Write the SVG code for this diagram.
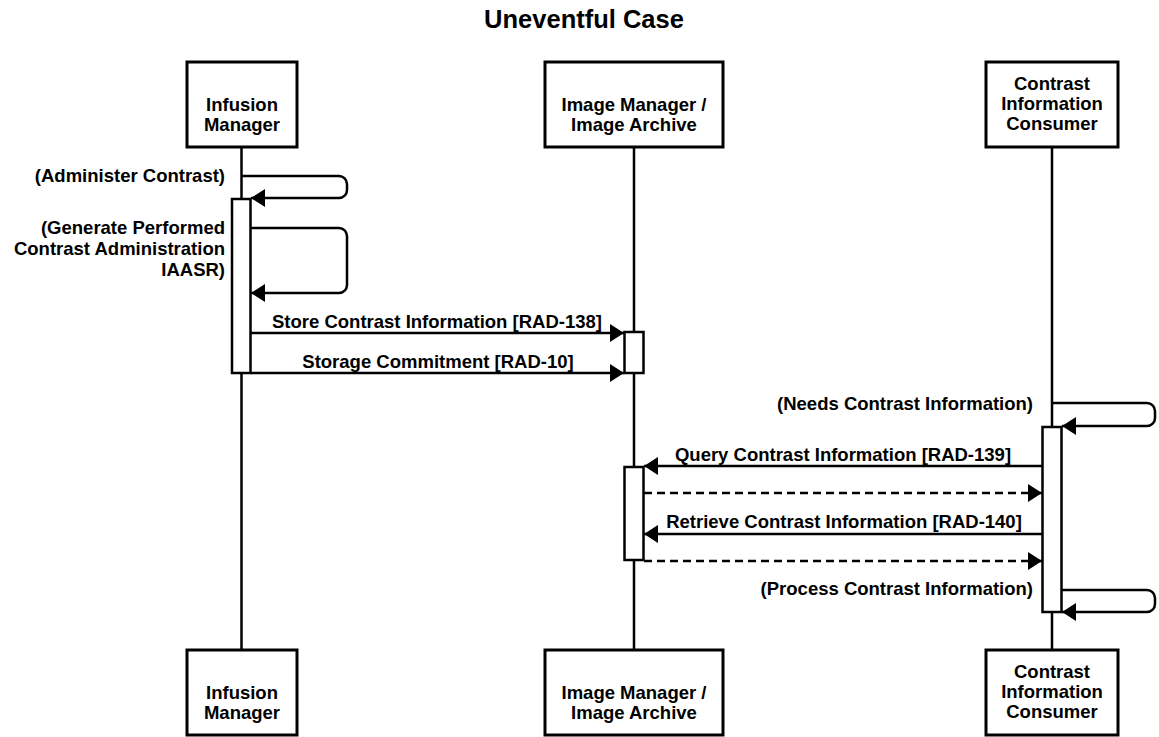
<svg xmlns="http://www.w3.org/2000/svg" width="1159" height="737" viewBox="0 0 1159 737">
  <defs>
    <marker id="arrow" viewBox="0 0 14 18" refX="14" refY="9" markerWidth="14" markerHeight="18" markerUnits="userSpaceOnUse" orient="auto">
      <path d="M0,0 L14,9 L0,18 Z" fill="#000"/>
    </marker>
  </defs>
  <style>
    text { font-family: "Liberation Sans", Arial, Helvetica, sans-serif; font-weight: bold; fill: #000; }
    .title { font-size: 25.5px; text-anchor: middle; }
    .lbl { font-size: 18.5px; }
    .mid { text-anchor: middle; }
    .end { text-anchor: end; }
    .box { fill: #fff; stroke: #000; stroke-width: 3; }
    .life { stroke: #000; stroke-width: 2.5; fill: none; }
    .act { fill: #fff; stroke: #000; stroke-width: 2.5; }
    .msg { stroke: #000; stroke-width: 2.5; fill: none; marker-end: url(#arrow); }
    .ret { stroke-dasharray: 8 5; }
  </style>
  <rect width="1159" height="737" fill="#fff"/>

  <text class="title" x="584" y="28">Uneventful Case</text>

  <!-- lifelines -->
  <g id="lifelines">
    <line class="life" x1="241.5" y1="148" x2="241.5" y2="649"/>
    <line class="life" x1="634" y1="148" x2="634" y2="649"/>
    <line class="life" x1="1052" y1="148" x2="1052" y2="649"/>
  </g>

  <!-- participants -->
  <g id="infusion-manager">
    <rect class="box" x="187" y="62" width="110" height="85"/>
    <text class="lbl mid" x="242" y="111">Infusion</text>
    <text class="lbl mid" x="242" y="131">Manager</text>
    <rect class="box" x="187" y="650" width="110" height="85"/>
    <text class="lbl mid" x="242" y="699">Infusion</text>
    <text class="lbl mid" x="242" y="719">Manager</text>
  </g>
  <g id="image-manager">
    <rect class="box" x="545" y="62" width="178" height="85"/>
    <text class="lbl mid" x="634" y="111">Image Manager /</text>
    <text class="lbl mid" x="634" y="131">Image Archive</text>
    <rect class="box" x="545" y="650" width="178" height="85"/>
    <text class="lbl mid" x="634" y="699">Image Manager /</text>
    <text class="lbl mid" x="634" y="719">Image Archive</text>
  </g>
  <g id="contrast-consumer">
    <rect class="box" x="986" y="62" width="132" height="85"/>
    <text class="lbl mid" x="1052" y="90">Contrast</text>
    <text class="lbl mid" x="1052" y="110">Information</text>
    <text class="lbl mid" x="1052" y="130">Consumer</text>
    <rect class="box" x="986" y="650" width="132" height="85"/>
    <text class="lbl mid" x="1052" y="678">Contrast</text>
    <text class="lbl mid" x="1052" y="698">Information</text>
    <text class="lbl mid" x="1052" y="718">Consumer</text>
  </g>

  <!-- activation bars -->
  <g id="activations">
    <rect class="act" x="232" y="199" width="18.5" height="174"/>
    <rect class="act" x="624.5" y="332" width="19" height="41"/>
    <rect class="act" x="624.5" y="467" width="19" height="93"/>
    <rect class="act" x="1042.5" y="427" width="19" height="185"/>
  </g>

  <!-- messages -->
  <g id="connectors">
    <path class="msg" d="M242,176 H339 A8,8 0 0 1 347,184 V190 A8,8 0 0 1 339,198 H251"/>
    <path class="msg" d="M251,228 H339 A8,8 0 0 1 347,236 V285 A8,8 0 0 1 339,293 H251"/>
    <line class="msg" x1="251" y1="333" x2="624" y2="333"/>
    <line class="msg" x1="251" y1="373" x2="624" y2="373"/>
    <path class="msg" d="M1052,403 H1147 A8,8 0 0 1 1155,411 V418 A8,8 0 0 1 1147,426 H1062"/>
    <line class="msg" x1="1042" y1="466" x2="644" y2="466"/>
    <line class="msg ret" x1="644" y1="493" x2="1042" y2="493"/>
    <line class="msg" x1="1042" y1="534" x2="644" y2="534"/>
    <line class="msg ret" x1="644" y1="561" x2="1042" y2="561"/>
    <path class="msg" d="M1062,590 H1147 A8,8 0 0 1 1155,598 V604 A8,8 0 0 1 1147,612 H1062"/>
  </g>

  <!-- message labels -->
  <g id="labels">
    <text class="lbl end" x="225" y="182">(Administer Contrast)</text>
    <text class="lbl end" x="225" y="234">(Generate Performed</text>
    <text class="lbl end" x="225" y="255">Contrast Administration</text>
    <text class="lbl end" x="225" y="276">IAASR)</text>
    <text class="lbl mid" x="437" y="328">Store Contrast Information [RAD-138]</text>
    <text class="lbl mid" x="438" y="368">Storage Commitment [RAD-10]</text>
    <text class="lbl end" x="1033" y="410">(Needs Contrast Information)</text>
    <text class="lbl mid" x="843" y="461">Query Contrast Information [RAD-139]</text>
    <text class="lbl mid" x="844" y="528">Retrieve Contrast Information [RAD-140]</text>
    <text class="lbl end" x="1033" y="595">(Process Contrast Information)</text>
  </g>
</svg>
